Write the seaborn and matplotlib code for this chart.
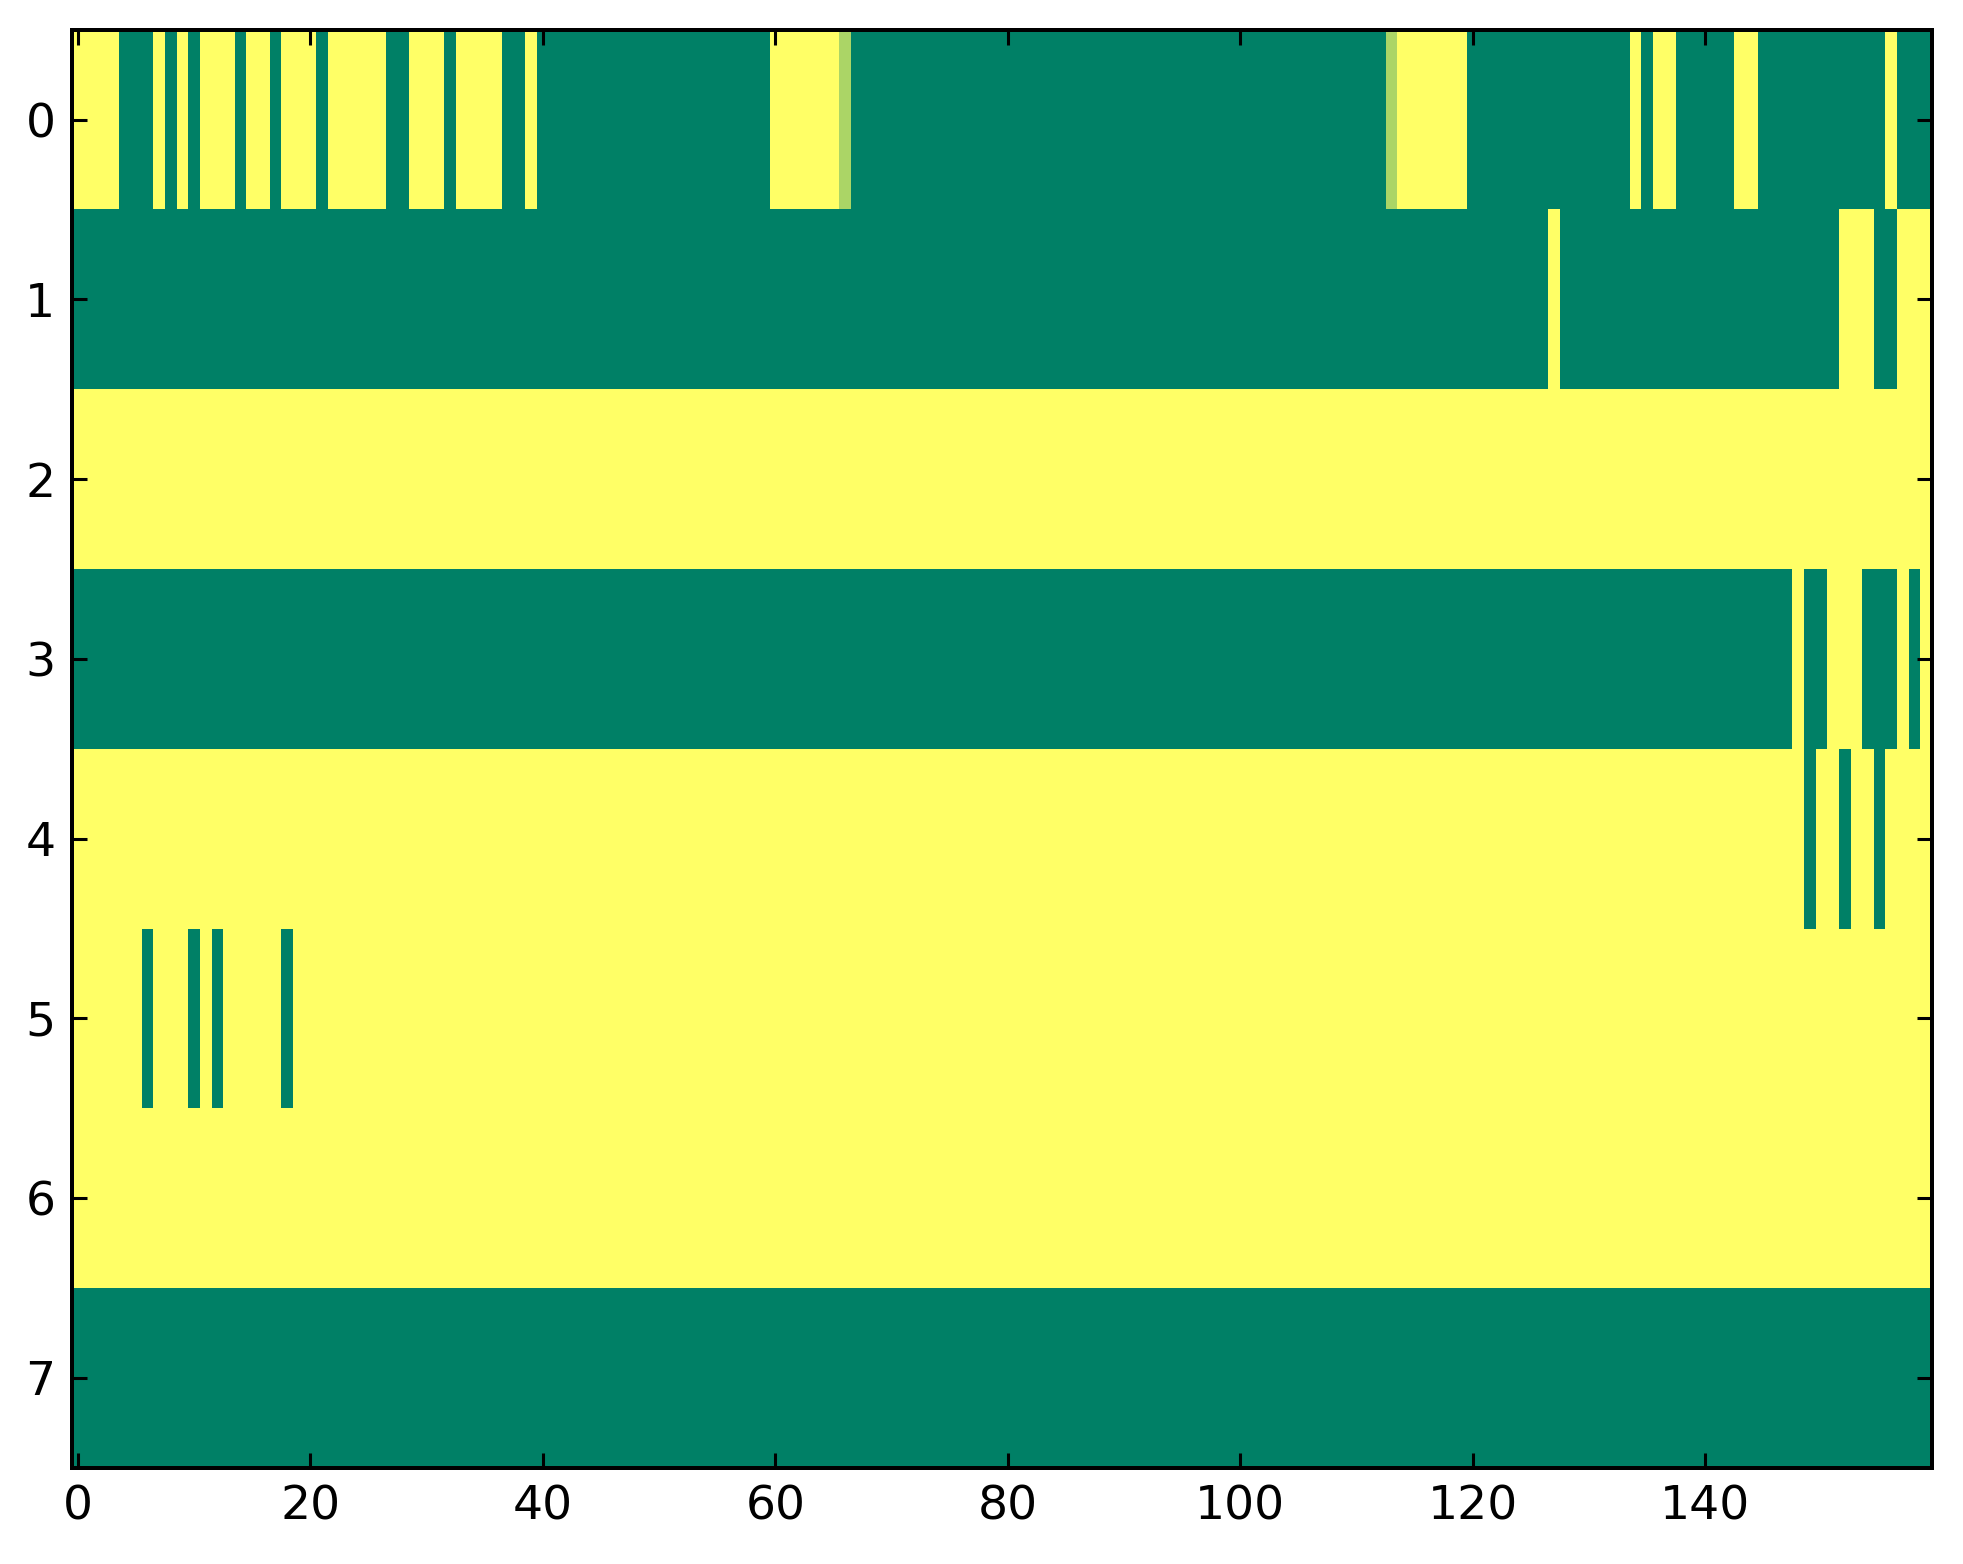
import numpy as np
import matplotlib
matplotlib.use("Agg")
from matplotlib import pyplot as plt
import seaborn as sns

n_cols = 160
rows = 8

# value per row: default fill, then (column, value) exceptions
row_fill = [0, 0, 1, 0, 1, 1, 1, 0]
row0_yellow = [0, 1, 2, 3, 7, 9, 11, 12, 13, 15, 16, 18, 19, 20, 22, 23, 24, 25, 26,
               29, 30, 31, 33, 34, 35, 36, 39, 60, 61, 62, 63, 64, 65,
               114, 115, 116, 117, 118, 119, 134, 136, 137, 143, 144, 156]
row0_light = [66, 113]
row1_yellow = [127, 152, 153, 154, 157, 158, 159]
row3_yellow = [148, 151, 152, 153, 157, 159]
row4_green = [149, 152, 155]
row5_green = [6, 10, 12, 18]

grid = np.array([[float(v)] * n_cols for v in row_fill])
grid[0, row0_yellow] = 1
grid[0, row0_light] = 0.67
grid[1, row1_yellow] = 1
grid[3, row3_yellow] = 1
grid[4, row4_green] = 0
grid[5, row5_green] = 0

sns.set_style("white")
fig = plt.figure(figsize=(1963 / 200, 1564 / 200), dpi=200)
ax = fig.add_axes([0.0367, 0.0615, 0.9475, 0.9195])
sns.heatmap(grid, cmap="summer", vmin=0, vmax=1, cbar=False, ax=ax,
            xticklabels=False, yticklabels=False)
ax.set_axisbelow(False)

xt = np.arange(0, 160, 20)
ax.set_xticks(xt + 0.5)
ax.set_xticklabels([str(v) for v in xt], fontsize=17)
ax.set_yticks(np.arange(rows) + 0.5)
ax.set_yticklabels([str(v) for v in range(rows)], fontsize=17, rotation=0)
ax.tick_params(direction="in", length=5.4, width=1.1, top=True, right=True,
               bottom=True, left=True, pad=6, colors="black")
for s in ax.spines.values():
    s.set_visible(True)
    s.set_linewidth(1.44)
    s.set_color("black")
    s.set_zorder(3)

plt.savefig("out.png", dpi=200)
